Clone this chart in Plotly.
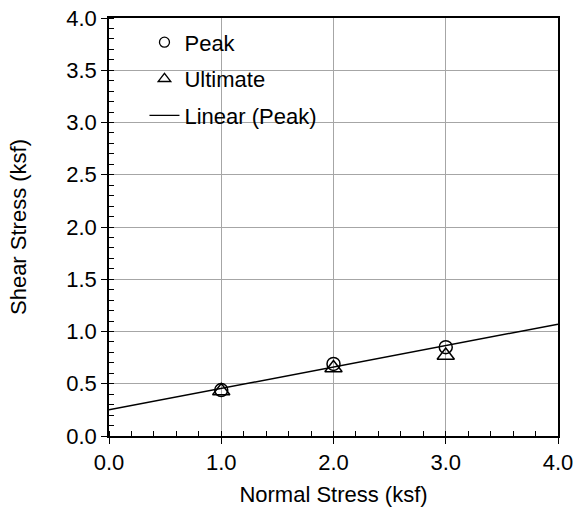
import numpy as np
import plotly.graph_objects as go

# Direct shear test results
normal_stress = [1.0, 2.0, 3.0]          # ksf
peak_shear = [0.44, 0.69, 0.85]          # ksf
ultimate_shear = [0.43, 0.65, 0.77]      # ksf

x_ticks = [0, 1, 2, 3, 4]
y_ticks = [0, 0.5, 1, 1.5, 2, 2.5, 3, 3.5, 4]

# Least-squares line through the peak values
slope, intercept = np.polyfit(normal_stress, peak_shear, 1)
fit_x = [0.0, 4.0]
fit_y = [intercept + slope * v for v in fit_x]

FONT = "Arial, Liberation Sans, sans-serif"
FS = 22

fig = go.Figure()

fig.add_trace(go.Scatter(
    x=fit_x, y=fit_y, mode="lines",
    line=dict(color="black", width=1.5),
    showlegend=False, hoverinfo="skip",
))
fig.add_trace(go.Scatter(
    x=normal_stress, y=peak_shear, mode="markers",
    marker=dict(symbol="circle-open", size=13, color="black", line=dict(width=1.5)),
    showlegend=False,
))
fig.add_trace(go.Scatter(
    x=normal_stress, y=ultimate_shear, mode="markers",
    marker=dict(symbol="triangle-up-open", size=15, color="black", line=dict(width=1.5)),
    showlegend=False,
))

# legend entries
fig.add_trace(go.Scatter(
    x=[None], y=[None], mode="markers", name="Peak", legendgroup="a",
    marker=dict(symbol="circle-open", size=10, color="black", line=dict(width=1.3)),
))
fig.add_trace(go.Scatter(
    x=[None], y=[None], mode="markers", name="Ultimate", legendgroup="b",
    marker=dict(symbol="triangle-up-open", size=11, color="black", line=dict(width=1.3)),
))
fig.add_trace(go.Scatter(
    x=[None], y=[None], mode="lines", name="Linear (Peak)", legendgroup="c",
    line=dict(color="black", width=1.3),
))

# empty trace on overlay axes to get the inner half of the major ticks
fig.add_trace(go.Scatter(x=[None], y=[None], xaxis="x2", yaxis="y2",
                         showlegend=False, hoverinfo="skip"))

axis_common = dict(
    showline=True, linecolor="black", linewidth=1.5, mirror=True,
    ticks="outside", ticklen=6, tickwidth=1.3, tickcolor="black",
    showgrid=True, gridcolor="#a6a6a6", gridwidth=1,
    zeroline=False, tickformat=".1f",
    tickfont=dict(family=FONT, size=FS, color="black"),
)

fig.update_layout(
    width=574, height=510,
    margin=dict(l=109, r=16, t=18, b=74, autoexpand=False),
    paper_bgcolor="white", plot_bgcolor="white",
    font=dict(family=FONT, size=FS, color="black"),
    xaxis=dict(
        range=[0, 4], tickvals=x_ticks, **axis_common,
        minor=dict(ticks="inside", ticklen=5, tickwidth=1.3, tickcolor="black",
                   dtick=0.2, tick0=0, showgrid=False),
        title=dict(text="Normal Stress (ksf)", font=dict(family=FONT, size=FS), standoff=12),
    ),
    yaxis=dict(
        range=[0, 4], tickvals=y_ticks, **axis_common,
        minor=dict(ticks="inside", ticklen=5, tickwidth=1.3, tickcolor="black",
                   dtick=0.1, tick0=0, showgrid=False),
        title=dict(text="Shear Stress (ksf)", font=dict(family=FONT, size=FS), standoff=34),
    ),
    xaxis2=dict(range=[0, 4], tickvals=x_ticks, overlaying="x", side="bottom",
                ticks="inside", ticklen=5, tickwidth=1.3, tickcolor="black",
                showticklabels=False, showgrid=False, zeroline=False, showline=False),
    yaxis2=dict(range=[0, 4], tickvals=y_ticks, overlaying="y", side="left",
                ticks="inside", ticklen=5, tickwidth=1.3, tickcolor="black",
                showticklabels=False, showgrid=False, zeroline=False, showline=False),
    legend=dict(
        x=0.079, y=0.992, xanchor="left", yanchor="top",
        bgcolor="rgba(0,0,0,0)", borderwidth=0,
        font=dict(family=FONT, size=FS, color="black"),
        tracegroupgap=5,
    ),
    shapes=[dict(
        type="rect", xref="paper", yref="paper", layer="between",
        x0=0.003, x1=0.525, y0=0.72, y1=0.983,
        fillcolor="white", line=dict(width=0),
    )],
    showlegend=True,
)

fig.write_html("out.html")
